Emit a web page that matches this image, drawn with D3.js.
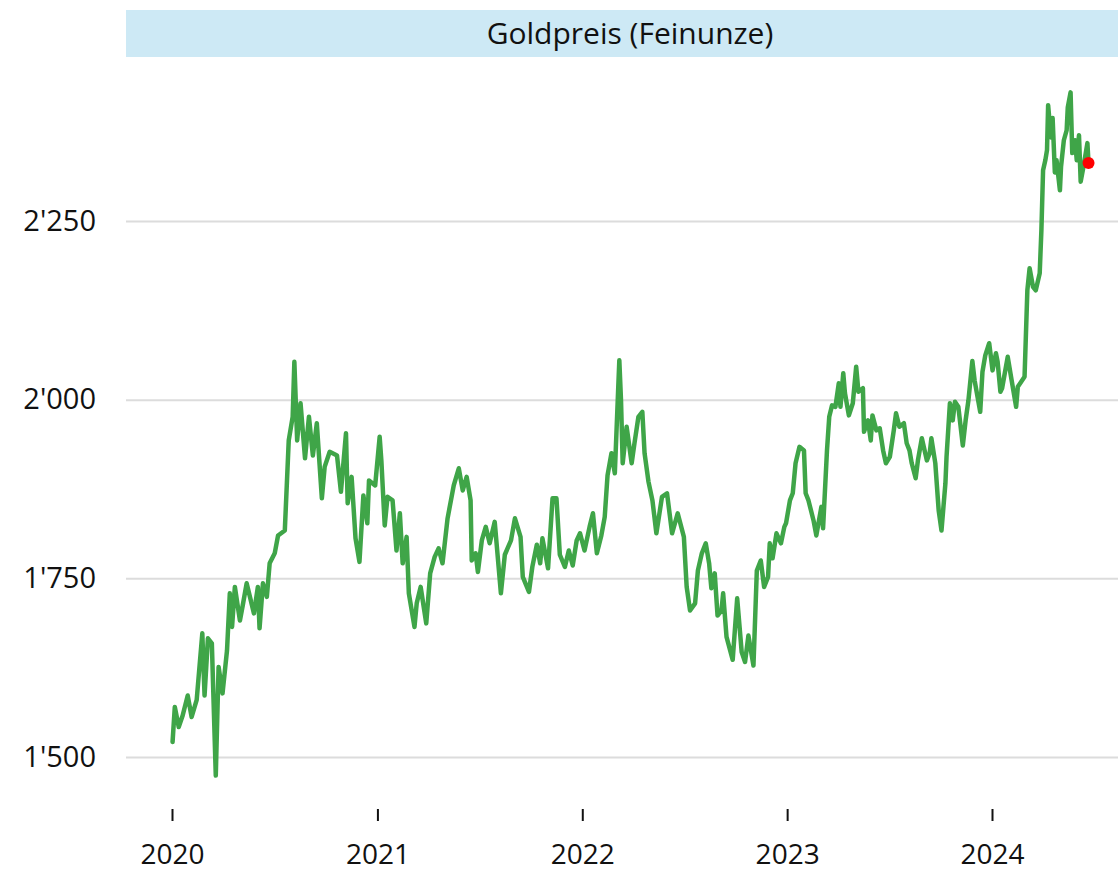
<!DOCTYPE html>
<html>
<head>
<meta charset="utf-8">
<script src="https://cdnjs.cloudflare.com/ajax/libs/d3/7.8.5/d3.min.js"></script>
<style>
  body { margin: 0; background: #fff; }
  text { font-family: "Open Sans", sans-serif; fill: #111; }
</style>
</head>
<body>
<div id="chart"></div>
<script>
var width = 1118
var height = 873

var title = "Goldpreis (Feinunze)"
var yTicks = [1500, 1750, 2000, 2250]
var xTickYears = [2020, 2021, 2022, 2023, 2024]

// Goldpreis in USD
var dates = [
  "2020-01-02","2020-01-06","2020-01-13","2020-01-20","2020-01-29","2020-02-05","2020-02-14","2020-02-24","2020-02-28","2020-03-05",
  "2020-03-12","2020-03-19","2020-03-24","2020-03-31","2020-04-08","2020-04-13","2020-04-17","2020-04-22","2020-05-01","2020-05-06",
  "2020-05-13","2020-05-26","2020-06-02","2020-06-05","2020-06-11","2020-06-18","2020-06-23","2020-07-02","2020-07-08","2020-07-20",
  "2020-07-27","2020-08-03","2020-08-06","2020-08-11","2020-08-17","2020-08-25","2020-09-01","2020-09-08","2020-09-15","2020-09-24",
  "2020-09-29","2020-10-08","2020-10-21","2020-10-28","2020-11-06","2020-11-09","2020-11-16","2020-11-23","2020-11-30","2020-12-07",
  "2020-12-14","2020-12-17","2020-12-28","2021-01-05","2021-01-08","2021-01-14","2021-01-19","2021-01-28","2021-02-04","2021-02-10",
  "2021-02-15","2021-02-22","2021-02-26","2021-03-08","2021-03-12","2021-03-19","2021-03-29","2021-04-05","2021-04-13","2021-04-20",
  "2021-04-27","2021-05-06","2021-05-17","2021-05-26","2021-06-02","2021-06-09","2021-06-16","2021-06-18","2021-06-25","2021-06-29",
  "2021-07-06","2021-07-13","2021-07-20","2021-07-29","2021-08-09","2021-08-16","2021-08-27","2021-09-03","2021-09-13","2021-09-17",
  "2021-09-28","2021-10-04","2021-10-12","2021-10-18","2021-10-22","2021-11-01","2021-11-09","2021-11-16","2021-11-22","2021-12-01",
  "2021-12-08","2021-12-15","2021-12-22","2021-12-28","2022-01-05","2022-01-14","2022-01-20","2022-01-27","2022-02-04","2022-02-10",
  "2022-02-15","2022-02-22","2022-02-28","2022-03-08","2022-03-11","2022-03-14","2022-03-21","2022-03-30","2022-04-04","2022-04-11",
  "2022-04-18","2022-04-22","2022-04-29","2022-05-06","2022-05-13","2022-05-23","2022-06-01","2022-06-10","2022-06-20","2022-07-01",
  "2022-07-06","2022-07-12","2022-07-21","2022-07-26","2022-08-02","2022-08-09","2022-08-15","2022-08-19","2022-08-25","2022-08-30",
  "2022-09-06","2022-09-09","2022-09-15","2022-09-26","2022-10-04","2022-10-12","2022-10-18","2022-10-24","2022-11-02","2022-11-08",
  "2022-11-15","2022-11-21","2022-11-28","2022-12-01","2022-12-06","2022-12-13","2022-12-21","2022-12-27","2022-12-30","2023-01-06",
  "2023-01-11","2023-01-16","2023-01-23","2023-01-31","2023-02-03","2023-02-08","2023-02-17","2023-02-22","2023-03-03","2023-03-06",
  "2023-03-13","2023-03-17","2023-03-22","2023-03-28","2023-04-03","2023-04-06","2023-04-11","2023-04-14","2023-04-21","2023-04-28",
  "2023-05-04","2023-05-08","2023-05-16","2023-05-18","2023-05-25","2023-05-30","2023-06-02","2023-06-09","2023-06-15","2023-06-21",
  "2023-06-26","2023-07-03","2023-07-10","2023-07-14","2023-07-20","2023-07-28","2023-08-02","2023-08-07","2023-08-11","2023-08-18",
  "2023-08-22","2023-08-29","2023-09-07","2023-09-12","2023-09-15","2023-09-22","2023-09-28","2023-10-03","2023-10-10","2023-10-12",
  "2023-10-18","2023-10-23","2023-10-27","2023-11-02","2023-11-10","2023-11-15","2023-11-20","2023-11-27","2023-12-01","2023-12-11",
  "2023-12-15","2023-12-20","2023-12-27","2024-01-02","2024-01-08","2024-01-11","2024-01-16","2024-01-19","2024-01-29","2024-02-05",
  "2024-02-13","2024-02-16","2024-02-28","2024-03-04","2024-03-08","2024-03-14","2024-03-19","2024-03-26","2024-03-29","2024-04-01",
  "2024-04-05","2024-04-08","2024-04-10","2024-04-15","2024-04-18","2024-04-22","2024-04-25","2024-05-01","2024-05-03","2024-05-08",
  "2024-05-13","2024-05-15","2024-05-20","2024-05-23","2024-05-28","2024-05-31","2024-06-04","2024-06-07","2024-06-12","2024-06-19",
  "2024-06-21"
]
var prices = [
  1521,1570,1542,1558,1586,1556,1580,1673,1586,1666,
  1659,1474,1626,1589,1649,1729,1682,1738,1691,1712,
  1743,1701,1738,1680,1743,1724,1771,1785,1810,1817,
  1943,1976,2053,1943,1995,1918,1976,1922,1967,1862,
  1906,1927,1922,1871,1953,1855,1892,1806,1773,1866,
  1827,1887,1880,1948,1915,1824,1864,1859,1789,1841,
  1771,1808,1729,1682,1715,1738,1687,1757,1780,1792,
  1771,1834,1880,1904,1873,1892,1859,1775,1785,1759,
  1803,1822,1799,1829,1729,1783,1803,1834,1808,1752,
  1731,1766,1797,1771,1806,1764,1862,1862,1783,1766,
  1789,1768,1803,1813,1789,1822,1841,1785,1810,1836,
  1894,1925,1897,2055,1999,1911,1962,1911,1939,1976,
  1983,1925,1885,1859,1813,1864,1869,1813,1841,1808,
  1738,1705,1715,1761,1785,1799,1771,1736,1757,1698,
  1705,1729,1668,1636,1722,1647,1633,1670,1628,1761,
  1775,1738,1752,1799,1778,1813,1799,1822,1827,1859,
  1869,1911,1934,1929,1869,1859,1831,1810,1850,1820,
  1929,1976,1992,1990,2023,1990,2037,2009,1978,1995,
  2046,2011,2016,1955,1971,1943,1978,1957,1960,1929,
  1911,1920,1957,1981,1962,1967,1939,1929,1911,1890,
  1915,1946,1915,1925,1946,1911,1845,1817,1883,1920,
  1995,1971,1997,1990,1936,1971,1999,2054,2027,1983,
  2039,2062,2079,2041,2065,2053,2011,2016,2060,2027,
  1990,2018,2032,2153,2184,2158,2153,2177,2237,2321,
  2335,2349,2412,2367,2394,2318,2335,2293,2326,2363,
  2377,2409,2430,2345,2363,2335,2370,2305,2326,2359,
  2331
]

var parseDate = d3.timeParse("%Y-%m-%d")
var data = dates.map(function(d, i) { return { date: parseDate(d), value: prices[i] }; })

var swiss = d3.formatLocale({ decimal: ".", thousands: "'", grouping: [3], currency: ["", ""] })
var fmt = swiss.format(",")

var svg = d3.select("#chart").append("svg")
    .attr("width", width)
    .attr("height", height)

var x = d3.scaleTime()
    .domain([new Date(2020, 0, 1), new Date(2024, 0, 1)])
    .range([172, 992])

var y = d3.scaleLinear()
    .domain([1500, 2250])
    .range([757, 221])

// title bar
svg.append("rect")
    .attr("x", 126)
    .attr("y", 10)
    .attr("width", width - 126)
    .attr("height", 47)
    .attr("fill", "#cde9f5")
svg.append("text")
    .text(title)
    .attr("x", 630)
    .attr("y", 44)
    .attr("text-anchor", "middle")
    .attr("font-size", "30px")

// y grid + labels
var yAxis = svg.append("g")
    .attr("transform", "translate(126,0)")
    .call(d3.axisLeft(y).tickValues(yTicks).tickSize(-(width - 126)).tickPadding(30).tickFormat(fmt))
yAxis.select(".domain").remove()
yAxis.selectAll("line").attr("stroke", "#dcdcdc").attr("stroke-width", 2)
yAxis.selectAll("text").attr("font-size", "29px").attr("font-family", "Open Sans, sans-serif").attr("fill", "#111")

// x axis: ticks only
var xAxis = svg.append("g")
    .attr("transform", "translate(0,809)")
    .call(d3.axisBottom(x)
        .tickValues(xTickYears.map(function(yr) { return new Date(yr, 0, 1); }))
        .tickSize(12).tickPadding(23)
        .tickFormat(d3.timeFormat("%Y")))
xAxis.select(".domain").remove()
xAxis.selectAll("line").attr("stroke", "#111").attr("stroke-width", 2)
xAxis.selectAll("text").attr("font-size", "28px").attr("font-family", "Open Sans, sans-serif").attr("fill", "#111")

// price line
var line = d3.line()
    .x(function(d) { return x(d.date); })
    .y(function(d) { return y(d.value); })

svg.append("path")
    .datum(data)
    .attr("d", line)
    .attr("fill", "none")
    .attr("stroke", "#3fa548")
    .attr("stroke-width", 4.5)
    .attr("stroke-linejoin", "round")
    .attr("stroke-linecap", "round")

// last value marker
var last = data[data.length - 1]
svg.append("circle")
    .attr("cx", x(last.date))
    .attr("cy", y(last.value))
    .attr("r", 6)
    .attr("fill", "#ff0000")
</script>
</body>
</html>
